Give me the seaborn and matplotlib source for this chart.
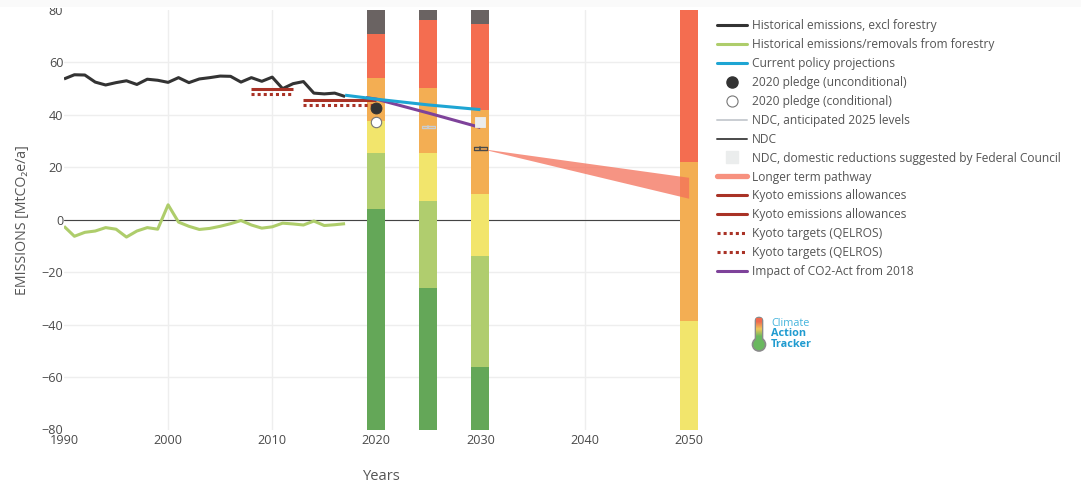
import numpy as np
import pandas as pd
import matplotlib
matplotlib.use('Agg')
import matplotlib.pyplot as plt
from matplotlib.lines import Line2D
from matplotlib.patches import FancyBboxPatch, Rectangle
import seaborn as sns

# historical series
hist_years = list(range(1990, 2018))
hist_excl_forestry = [53.7, 55.3, 55.2, 52.5, 51.4, 52.3, 53.0, 51.6, 53.6, 53.2,
                      52.4, 54.2, 52.3, 53.7, 54.2, 54.8, 54.7, 52.5, 54.2, 52.8,
                      54.4, 50.0, 51.9, 52.7, 48.3, 48.0, 48.3, 47.0]
hist_forestry = [-2.5, -6.3, -4.8, -4.3, -3.0, -3.6, -6.6, -4.3, -3.0, -3.6,
                 5.7, -0.9, -2.5, -3.7, -3.3, -2.5, -1.5, -0.3, -2.0, -3.2,
                 -2.7, -1.3, -1.6, -2.0, -0.5, -2.2, -1.9, -1.5]

# projections
policy_years = [2017, 2020, 2025, 2030]
policy_values = [47.5, 46.0, 43.8, 42.0]
co2act_years = [2019, 2020, 2025, 2030]
co2act_values = [46.6, 46.0, 40.7, 35.2]

kyoto1_years = [2008, 2012]
kyoto1_allow = [49.7, 49.7]
kyoto1_target = [47.8, 47.8]
kyoto2_years = [2013, 2020]
kyoto2_allow = [45.8, 45.8]
kyoto2_target = [43.8, 43.8]

pledge_year = [2020]
pledge_uncond = [42.8]
pledge_cond = [37.4]
ndc_2025_year = [2024.35, 2025.65]
ndc_2025 = [35.3, 35.3]
ndc_2030_year = [2029.35, 2030.65]
ndc_2030 = [27.2, 27.2]
ndc_domestic_year = [2030]
ndc_domestic = [37.4]

pathway_years = [2030, 2050]
pathway_low = [27.2, 8.2]
pathway_high = [27.2, 16.2]

# rating bands, edges from bottom to top of the axis
band_years = [2020, 2025, 2030, 2050]
band_edges = {
    2020: [-80, 4, 25.5, 37.8, 54, 70.8, 80],
    2025: [-80, -26, 7, 25.6, 50.4, 76, 80],
    2030: [-80, -56, -13.7, 10, 42, 74.5, 80],
    2050: [-80, -38.5, 22.2, 80],
}
band_colors = {
    2020: ['#64a758', '#b0cd6e', '#f2e56c', '#f3ae53', '#f46d50', '#6a6362'],
    2025: ['#64a758', '#b0cd6e', '#f2e56c', '#f3ae53', '#f46d50', '#6a6362'],
    2030: ['#64a758', '#b0cd6e', '#f2e56c', '#f3ae53', '#f46d50', '#6a6362'],
    2050: ['#f2e56c', '#f3ae53', '#f46d50'],
}

x_ticks = [1990, 2000, 2010, 2020, 2030, 2040, 2050]
y_ticks = [-80, -60, -40, -20, 0, 20, 40, 60, 80]

BLACK = '#333333'
GREEN = '#aecd6b'
BLUE = '#1ea5d3'
PURPLE = '#7e429a'
KYOTO = '#a93226'
SALMON = '#f4705a'
TEXT = '#555555'

sns.set_theme(style='white')
plt.rcParams['font.family'] = ['Open Sans', 'DejaVu Sans']

W, H = 1081, 488
fig = plt.figure(figsize=(W / 100, H / 100), dpi=100)
ax = fig.add_axes([64 / W, 1 - 429.5 / H, (698 - 64) / W, (429.5 - 10) / H])

for year in band_years:
    edges = band_edges[year]
    for low, high, color in zip(edges[:-1], edges[1:], band_colors[year]):
        ax.bar(year, high - low, bottom=low, width=1.73, color=color, linewidth=0, zorder=2)

ax.axhline(0, color='#444444', lw=0.8, zorder=1.5)

# longer term wedge
ax.fill_between(pathway_years, pathway_low, pathway_high, color=SALMON, alpha=0.75, lw=0, zorder=3)


def draw_line(xs, ys, color, lw=2.2, ls='-'):
    df = pd.DataFrame({'x': xs, 'y': ys})
    sns.lineplot(data=df, x='x', y='y', color=color, lw=lw, linestyle=ls, ax=ax,
                 estimator=None, sort=False, zorder=4)
    ax.lines[-1].set_solid_capstyle('butt')


draw_line(hist_years, hist_excl_forestry, BLACK)
draw_line(hist_years, hist_forestry, GREEN)
for xs, ys in [(kyoto1_years, kyoto1_allow), (kyoto2_years, kyoto2_allow)]:
    draw_line(xs, ys, KYOTO)
for xs, ys in [(kyoto1_years, kyoto1_target), (kyoto2_years, kyoto2_target)]:
    draw_line(xs, ys, KYOTO, ls=(0, (1, 1)))
draw_line(co2act_years, co2act_values, PURPLE)
draw_line(policy_years, policy_values, BLUE)

# NDC ranges are thin boxes, one for 2025 and one for 2030
for xs, ys, color in [(ndc_2025_year, ndc_2025, '#c9cdd2'), (ndc_2030_year, ndc_2030, '#4a4a4a')]:
    ax.plot(xs, [ys[0] + 0.45] * 2, color=color, lw=1, zorder=4)
    ax.plot(xs, [ys[0] - 0.45] * 2, color=color, lw=1, zorder=4)
    ax.plot([xs[0]] * 2, [ys[0] - 0.45, ys[0] + 0.45], color=color, lw=0.8, zorder=4)
    ax.plot([xs[1]] * 2, [ys[0] - 0.45, ys[0] + 0.45], color=color, lw=0.8, zorder=4)
    ax.plot([sum(xs) / 2] * 2, [ys[0] - 0.45, ys[0] + 0.45], color=color, lw=1.2, zorder=4)

sns.scatterplot(x=pledge_year, y=pledge_uncond, s=62, color=BLACK, edgecolor=BLACK, ax=ax, zorder=5)
sns.scatterplot(x=pledge_year, y=pledge_cond, s=56, color='white', edgecolor='#777777',
                linewidth=0.8, ax=ax, zorder=5)
sns.scatterplot(x=ndc_domestic_year, y=ndc_domestic, s=62, marker='s', color='#ebeded',
                edgecolor='#ebeded', ax=ax, zorder=5)

ax.set_xlim(1990, 2050.9)
ax.set_ylim(-80, 80)
ax.set_xticks(x_ticks)
ax.set_yticks(y_ticks)
ax.set_yticklabels([str(v).replace('-', '\u2212') for v in y_ticks])
ax.grid(True, color='#eeeeee', lw=1)
ax.set_axisbelow(True)
# no gridlines on the axis limits
ax.yaxis.get_gridlines()[0].set_visible(False)
ax.yaxis.get_gridlines()[-1].set_visible(False)
ax.xaxis.get_gridlines()[0].set_visible(False)
ax.tick_params(axis='both', length=0, labelsize=9.1, labelcolor='#4a4a4a')
ax.tick_params(axis='x', pad=3)
ax.tick_params(axis='y', pad=0.5)
for side in ax.spines.values():
    side.set_visible(False)
ax.set_xlabel('')
ax.set_ylabel('')

fig.text(381 / W, 1 - 477 / H, 'Years', fontsize=10.6, color=TEXT, ha='center', va='center')
fig.text(23 / W, 1 - 220 / H, 'EMISSIONS [MtCO\u2082e/a]', fontsize=10.2, color=TEXT,
         ha='center', va='center', rotation=90)

handles = [
    Line2D([], [], color=BLACK, lw=2.2),
    Line2D([], [], color=GREEN, lw=2.2),
    Line2D([], [], color=BLUE, lw=2.2),
    Line2D([], [], color=BLACK, lw=0, marker='o', ms=8),
    Line2D([], [], color='#777777', lw=0, marker='o', ms=8, mfc='white', mew=0.8),
    Line2D([], [], color='#c9cdd2', lw=1.4),
    Line2D([], [], color='#4a4a4a', lw=1.4),
    Line2D([], [], color='#ebeded', lw=0, marker='s', ms=8),
    Line2D([], [], color='#f7917f', lw=3.8),
    Line2D([], [], color=KYOTO, lw=2.2),
    Line2D([], [], color=KYOTO, lw=2.2),
    Line2D([], [], color=KYOTO, lw=2.2, ls=(0, (1, 1))),
    Line2D([], [], color=KYOTO, lw=2.2, ls=(0, (1, 1))),
    Line2D([], [], color=PURPLE, lw=2.2),
]
labels = [
    'Historical emissions, excl forestry',
    'Historical emissions/removals from forestry',
    'Current policy projections',
    '2020 pledge (unconditional)',
    '2020 pledge (conditional)',
    'NDC, anticipated 2025 levels',
    'NDC',
    'NDC, domestic reductions suggested by Federal Council',
    'Longer term pathway',
    'Kyoto emissions allowances',
    'Kyoto emissions allowances',
    'Kyoto targets (QELROS)',
    'Kyoto targets (QELROS)',
    'Impact of CO2-Act from 2018',
]
leg = ax.legend(handles, labels, loc='upper left', bbox_to_anchor=(716.5 / W, 1 - 19.3 / H),
                bbox_transform=fig.transFigure, frameon=False, borderpad=0, borderaxespad=0,
                fontsize=8.68, handlelength=2.5, handletextpad=0.45, labelspacing=0.49)
for text in leg.get_texts():
    text.set_color(TEXT)

# logo
logo = fig.add_axes([745 / W, 1 - 355 / H, 30 / W, 42 / H])
logo.axis('off')
tube = FancyBboxPatch((755.5, 317.5), 7, 28, boxstyle='round,pad=0,rounding_size=3.5',
                      fc='#f0c25a', ec='#8a8a8a', lw=1.2, zorder=1)
bulb = plt.Circle((759, 344.5), 6.5, fc='#6ab85f', ec='#8a8a8a', lw=1.2, zorder=1)
logo.add_patch(tube)
logo.add_patch(bulb)
gradient = np.array([[0.0], [0.5], [1.0]])
cmap = matplotlib.colors.LinearSegmentedColormap.from_list('thermo', ['#ee6a50', '#efc75a', '#6ab85f'])
img = logo.imshow(gradient, cmap=cmap, extent=(756.3, 761.7, 340, 318.5), aspect='auto', zorder=2,
                  interpolation='bilinear')
logo.set_xlim(745, 775)
logo.set_ylim(355, 313)

fig.text(771 / W, 1 - 323 / H, 'Climate', fontsize=7.8, color='#45b4dc', va='center')
fig.text(771 / W, 1 - 334 / H, 'Action', fontsize=7.8, color='#1f9bd0', va='center', fontweight='bold')
fig.text(771 / W, 1 - 344.5 / H, 'Tracker', fontsize=7.8, color='#1f9bd0', va='center', fontweight='bold')

# page header strip hides the top of the 80 label
fig.patches.append(Rectangle((0, 1 - 8 / H), 1, 8 / H, transform=fig.transFigure,
                             fc='white', ec='none', zorder=10))
fig.patches.append(Rectangle((0, 1 - 6.5 / H), 1, 6.5 / H, transform=fig.transFigure,
                             fc='#fafafa', ec='none', zorder=11))

fig.savefig('out.png', dpi=100)
